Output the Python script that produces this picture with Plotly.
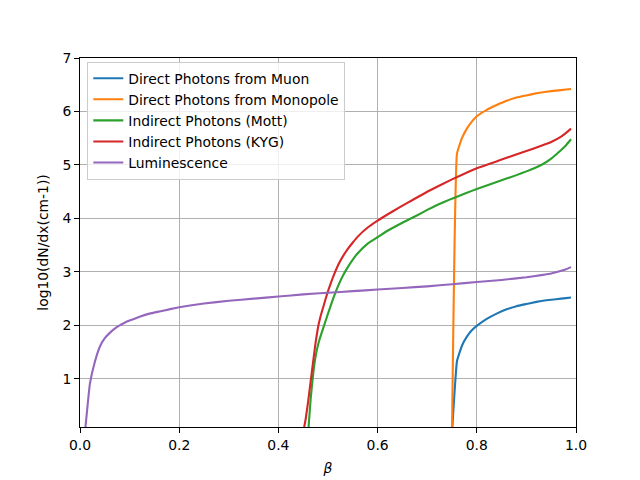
import plotly.graph_objects as go

# ---- data ----
beta_muon = [0.75, 0.76, 0.77, 0.78, 0.79, 0.80, 0.82, 0.84, 0.86, 0.88, 0.90, 0.92, 0.94, 0.96, 0.98, 0.99]
muon_vals = [0.0, 1.33, 1.62, 1.79, 1.91, 1.99, 2.12, 2.22, 2.30, 2.36, 2.40, 2.44, 2.47, 2.49, 2.51, 2.52]

beta_mono = [0.75, 0.76, 0.77, 0.78, 0.79, 0.80, 0.82, 0.84, 0.86, 0.88, 0.90, 0.92, 0.94, 0.96, 0.98, 0.99]
mono_vals = [0.0, 5.21, 5.50, 5.68, 5.81, 5.91, 6.03, 6.12, 6.20, 6.26, 6.30, 6.34, 6.37, 6.39, 6.41, 6.42]

beta_mott = [0.46, 0.465, 0.47, 0.475, 0.48, 0.485, 0.49, 0.495, 0.50, 0.51, 0.52, 0.53, 0.54, 0.55,
             0.56, 0.58, 0.60, 0.62, 0.65, 0.68, 0.70, 0.72, 0.75, 0.78, 0.80, 0.84, 0.88, 0.90,
             0.93, 0.95, 0.97, 0.98, 0.99]
mott_vals = [0.0, 0.62, 1.08, 1.42, 1.64, 1.80, 1.94, 2.08, 2.22, 2.49, 2.73, 2.93, 3.09, 3.23,
             3.35, 3.53, 3.65, 3.77, 3.92, 4.06, 4.16, 4.25, 4.37, 4.48, 4.55, 4.68, 4.81, 4.88,
             5.00, 5.12, 5.28, 5.37, 5.48]

beta_kyg = [0.45, 0.455, 0.46, 0.465, 0.47, 0.475, 0.48, 0.485, 0.49, 0.495, 0.50, 0.51, 0.52, 0.53,
            0.54, 0.55, 0.56, 0.58, 0.60, 0.63, 0.66, 0.70, 0.75, 0.80, 0.85, 0.90, 0.93, 0.95,
            0.97, 0.98, 0.99]
kyg_vals = [0.0, 0.25, 0.58, 0.95, 1.32, 1.68, 1.97, 2.17, 2.33, 2.49, 2.64, 2.90, 3.12, 3.29,
            3.43, 3.55, 3.66, 3.83, 3.96, 4.13, 4.29, 4.50, 4.73, 4.94, 5.10, 5.26, 5.36, 5.43,
            5.53, 5.60, 5.68]

beta_lum = [0.01, 0.02, 0.03, 0.04, 0.05, 0.06, 0.07, 0.08, 0.09, 0.10, 0.12, 0.14, 0.16, 0.18, 0.20,
            0.25, 0.30, 0.35, 0.40, 0.45, 0.50, 0.55, 0.60, 0.65, 0.70, 0.75, 0.80, 0.85, 0.90,
            0.93, 0.95, 0.97, 0.98, 0.99]
lum_vals = [0.0, 0.91, 1.32, 1.60, 1.76, 1.86, 1.94, 2.00, 2.05, 2.09, 2.16, 2.22, 2.26, 2.30, 2.34,
            2.41, 2.46, 2.50, 2.54, 2.58, 2.61, 2.64, 2.67, 2.70, 2.73, 2.77, 2.81, 2.85, 2.90,
            2.94, 2.97, 3.02, 3.05, 3.09]

series = [
    ("Direct Photons from Muon", beta_muon, muon_vals, "#1f77b4"),
    ("Direct Photons from Monopole", beta_mono, mono_vals, "#ff7f0e"),
    ("Indirect Photons (Mott)", beta_mott, mott_vals, "#2ca02c"),
    ("Indirect Photons (KYG)", beta_kyg, kyg_vals, "#d62728"),
    ("Luminescence", beta_lum, lum_vals, "#9467bd"),
]

x_ticks = [0.0, 0.2, 0.4, 0.6, 0.8, 1.0]
x_tick_labels = ["0.0", "0.2", "0.4", "0.6", "0.8", "1.0"]
y_ticks = [1, 2, 3, 4, 5, 6, 7]

FONT = "DejaVu Sans"
FS = 13.9

fig = go.Figure()
for name, xs, ys, col in series:
    fig.add_trace(go.Scatter(x=xs, y=ys, mode="lines", name=name,
                             line=dict(color=col, width=2.1, shape="spline", smoothing=0.3)))

axis_common = dict(
    showline=True, linecolor="black", linewidth=1.1, mirror=True,
    ticks="outside", ticklen=4.9, tickwidth=1.1, tickcolor="black",
    showgrid=True, gridcolor="#b0b0b0", gridwidth=1.1,
    zeroline=False, automargin=False,
    tickfont=dict(family=FONT, size=FS, color="black"),
)

fig.update_layout(
    width=640, height=480,
    margin=dict(l=80, r=64, t=58, b=53, pad=0),
    paper_bgcolor="white", plot_bgcolor="white",
    font=dict(family=FONT, size=FS, color="black"),
    xaxis=dict(range=[0, 1], tickvals=x_ticks, ticktext=x_tick_labels,
               title=dict(text="<i>β</i>", font=dict(family=FONT, size=FS), standoff=11),
               **axis_common),
    yaxis=dict(range=[0.1, 7], tickvals=y_ticks,
               title=dict(text="log10(dN/dx(cm-1))", font=dict(family=FONT, size=FS), standoff=10),
               **axis_common),
    legend=dict(x=0.0147, y=0.990, xanchor="left", yanchor="top",
                bgcolor="rgba(255,255,255,0.8)", bordercolor="#cccccc", borderwidth=1,
                font=dict(family=FONT, size=FS, color="black"),
                itemwidth=30, tracegroupgap=0),
    showlegend=True,
)

fig.write_html("out.html", config={"displayModeBar": False},
               post_script="document.body.style.margin='0';")
